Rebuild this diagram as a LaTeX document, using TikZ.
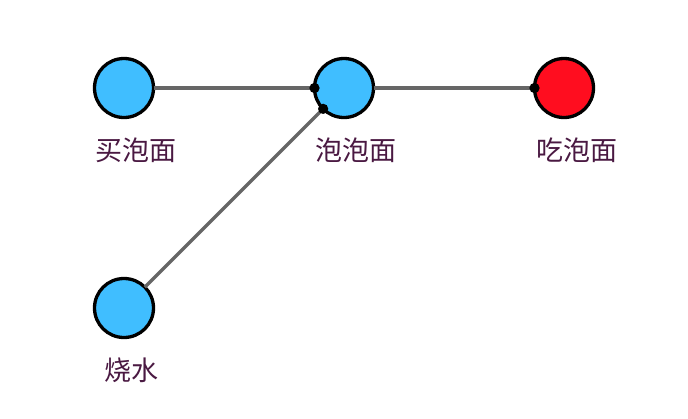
\documentclass[tikz,border=0pt]{standalone}
\usepackage{fontspec}
\setmainfont{Noto Sans CJK SC}
\usetikzlibrary{arrows.meta}
\definecolor{nodeblue}{HTML}{40BEFF}
\definecolor{nodered}{HTML}{FF0D1F}
\definecolor{edgegray}{HTML}{666666}
\definecolor{labelcol}{HTML}{4A1942}
\tikzset{
  stepnode/.style={circle, draw=black, line width=3.3pt, minimum size=59pt, inner sep=0pt, outer sep=0pt, fill=nodeblue},
  endnode/.style={stepnode, fill=nodered},
  lbl/.style={anchor=base, inner sep=0pt, text=labelcol, font=\fontsize{27pt}{30pt}\selectfont},
  link/.style={draw=edgegray, line width=3.3pt, -{Circle[length=10pt, color=black]}, shorten >=-5pt}
}
\begin{document}
\begin{tikzpicture}[x=1pt,y=-1pt]
\useasboundingbox (0,0) rectangle (688,418);
\node[stepnode] (buy) at (124,88) {};
\node[stepnode] (soak) at (344,88) {};
\node[endnode] (eat) at (564,88) {};
\node[stepnode] (boil) at (124,308) {};
\node[lbl] (lbuy) at (136,160) {买泡面};
\node[lbl] (lsoak) at (356,160) {泡泡面};
\node[lbl] (leat) at (576.5,160) {吃泡面};
\node[lbl] (lboil) at (131.5,380) {烧水};
\draw[link] (buy) -- (soak);
\draw[link] (boil) -- (soak);
\draw[link] (soak) -- (eat);
\end{tikzpicture}
\end{document}
